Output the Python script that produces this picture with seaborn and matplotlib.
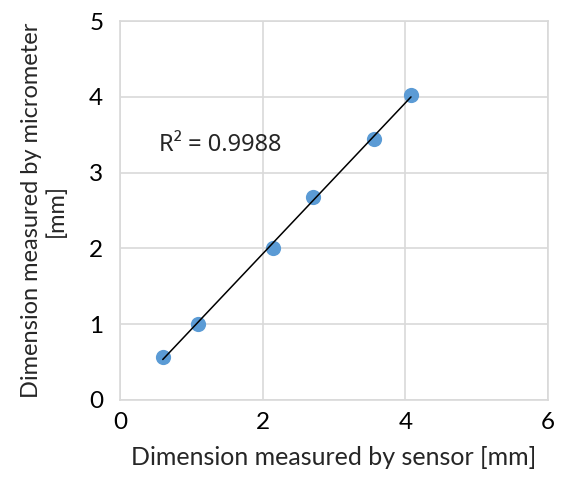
import numpy as np
import pandas as pd
import seaborn as sns
import matplotlib
matplotlib.use("Agg")
import matplotlib.pyplot as plt

sensor_mm = [0.60, 1.09, 2.14, 2.70, 3.56, 4.08]
micrometer_mm = [0.57, 1.00, 2.01, 2.68, 3.44, 4.03]
r2_label = "R² = 0.9988"
x_ticks = [0, 2, 4, 6]
y_ticks = [0, 1, 2, 3, 4, 5]

df = pd.DataFrame({"sensor": sensor_mm, "micrometer": micrometer_mm})

sns.set_theme(style="white")
plt.rcParams['font.family'] = ['Lato', 'DejaVu Sans']

fig = plt.figure(figsize=(5.62, 4.90), dpi=100)
ax = fig.add_axes([0.2135, 0.1837, 0.7615, 0.7733])

sns.regplot(data=df, x="sensor", y="micrometer", ax=ax, ci=None, truncate=True,
            scatter_kws=dict(s=120, color="#5B9BD5", alpha=1, linewidths=0, zorder=3),
            line_kws=dict(color="black", lw=1.1, zorder=4))

ax.set_xlim(0, 6)
ax.set_ylim(0, 5)
ax.set_xticks(x_ticks)
ax.set_yticks(y_ticks)
ax.grid(True, color="#d9d9d9", lw=1.2)
ax.set_axisbelow(True)
for s in ax.spines.values():
    s.set_color("#d9d9d9")
    s.set_linewidth(1.2)
ax.tick_params(axis="both", labelsize=17.5, length=0, colors="black")
ax.tick_params(axis="x", pad=9)
ax.tick_params(axis="y", pad=12)
ax.set_xlabel("Dimension measured by sensor [mm]", fontsize=18, labelpad=9)
ax.set_ylabel("Dimension measured by micrometer\n[mm]", fontsize=17, labelpad=16)
ax.text(0.55, 3.36, r2_label, fontsize=17, va="center", ha="left",
        family=["Noto Sans", "DejaVu Sans"])

fig.savefig("out.png", dpi=100)
